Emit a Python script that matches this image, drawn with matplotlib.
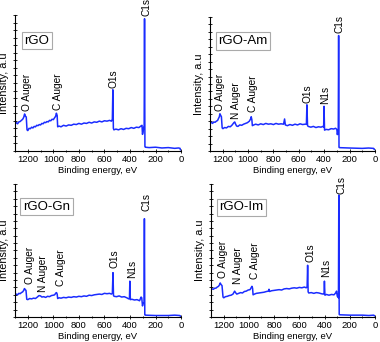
import matplotlib.pyplot as plt
from matplotlib.ticker import MultipleLocator

plt.rcParams['font.family'] = ['Liberation Sans', 'DejaVu Sans']

# rGO
e_rgo = [1300, 1290, 1280, 1270, 1260, 1250, 1240, 1232, 1225, 1218, 1212, 1206, 1200, 1190, 1180,
         1170, 1160, 1150, 1140, 1130, 1120, 1110, 1100, 1090, 1080, 1070, 1060, 1050, 1040, 1030,
         1020, 1010, 1000, 990, 982, 976, 970, 966, 955, 940, 920, 900, 880, 860, 840, 820, 800,
         780, 760, 740, 720, 700, 680, 660, 640, 620, 600, 580, 560, 545, 538, 534, 530, 526, 510,
         490, 470, 450, 430, 410, 390, 370, 350, 330, 315, 306, 302, 298, 292, 289, 286, 283, 280,
         250, 200, 150, 100, 50, 20, 8, 5, 0]
i_rgo = [3.6, 3.75, 3.6, 3.85, 3.9, 4.05, 4.2, 4.45, 4.9, 4.6, 4.5, 2.8, 2.7, 3.0, 2.95,
         3.15, 3.05, 3.25, 3.2, 3.4, 3.35, 3.5, 3.45, 3.65, 3.6, 3.8, 3.75, 3.9, 3.85, 4.05,
         4.0, 4.2, 4.15, 4.4, 4.6, 5.0, 4.7, 3.2, 3.3, 3.2, 3.4, 3.3, 3.45, 3.4, 3.55, 3.5, 3.65,
         3.55, 3.7, 3.65, 3.8, 3.7, 3.85, 3.8, 3.95, 3.85, 4.0, 3.95, 4.05, 3.95, 4.2, 8.1, 3.0, 2.8, 2.9,
         2.8, 2.95, 2.85, 3.0, 2.95, 3.1, 3.0, 3.15, 3.1, 3.3, 3.4, 2.2, 2.5, 3.2, 3.3, 17.5, 0.6, 0.5,
         0.45, 0.5, 0.4, 0.45, 0.35, 0.4, 0.35, 0.15, 0.15]

# rGO-Am
e_am = [1300, 1290, 1280, 1270, 1260, 1250, 1240, 1232, 1226, 1222, 1216, 1210, 1204, 1198, 1185,
        1170, 1155, 1140, 1125, 1112, 1105, 1098, 1090, 1080, 1065, 1050, 1035, 1020, 1005, 990,
        980, 975, 970, 966, 955, 940, 920, 900, 880, 860, 840, 820, 800, 780, 760, 740, 720, 712,
        706, 690, 670, 650, 630, 610, 590, 570, 550, 540, 536, 531, 525, 505, 485, 465, 445, 425,
        410, 404, 401, 397, 385, 365, 345, 325, 310, 300, 296, 292, 289, 286, 283, 280, 200, 100,
        50, 10, 5, 0]
i_am = [3.75, 3.85, 3.7, 3.9, 3.85, 4.0, 4.1, 4.4, 4.6, 5.0, 4.8, 4.6, 3.1, 3.0, 3.15,
        3.1, 3.3, 3.25, 3.5, 3.8, 3.9, 3.6, 3.35, 3.3, 3.5, 3.45, 3.6, 3.7, 3.8, 4.0,
        4.3, 4.6, 4.2, 3.4, 3.5, 3.6, 3.5, 3.65, 3.55, 3.7, 3.6, 3.65, 3.55, 3.7, 3.6, 3.65, 3.6, 4.3,
        3.5, 3.4, 3.55, 3.45, 3.6, 3.5, 3.65, 3.55, 3.6, 3.6, 6.2, 3.4, 3.3, 3.2, 3.3, 3.15, 3.25, 3.2,
        3.3, 3.2, 6.0, 2.8, 2.9, 2.85, 3.0, 2.95, 3.05, 2.9, 2.2, 2.6, 2.3, 15.5, 0.5, 0.45, 0.4, 0.35,
        0.4, 0.35, 0.2, 0.2]

# rGO-Gn
e_gn = [1300, 1290, 1280, 1270, 1260, 1250, 1240, 1232, 1226, 1220, 1214, 1208, 1200, 1185, 1170,
        1155, 1140, 1125, 1112, 1100, 1090, 1075, 1060, 1045, 1030, 1015, 1000, 990, 980, 975,
        970, 966, 955, 940, 920, 900, 880, 860, 840, 820, 800, 780, 760, 740, 720, 700, 680, 660,
        640, 620, 600, 580, 560, 545, 538, 533, 529, 524, 505, 485, 465, 445, 425, 410, 404, 401,
        397, 385, 365, 345, 325, 313, 308, 302, 296, 290, 287, 284, 280, 200, 100, 50, 10, 5, 0]
i_gn = [3.0, 3.1, 3.0, 3.2, 3.15, 3.3, 3.4, 3.6, 3.85, 3.7, 3.6, 2.4, 2.35, 2.5, 2.45,
        2.55, 2.5, 2.7, 2.9, 2.85, 2.7, 2.75, 2.65, 2.8, 2.75, 2.9, 2.95, 3.0, 3.25, 3.3,
        3.1, 2.5, 2.6, 2.55, 2.65, 2.6, 2.7, 2.65, 2.75, 2.7, 2.8, 2.75, 2.85, 2.8, 2.95, 2.9, 3.0, 3.05,
        3.1, 3.05, 3.2, 3.15, 3.2, 3.1, 3.2, 6.0, 2.9, 2.8, 2.75, 2.85, 2.7, 2.75, 2.6, 2.45, 2.5, 4.85,
        2.35, 2.4, 2.3, 2.35, 2.2, 2.7, 2.6, 1.5, 1.9, 1.85, 13.3, 0.3, 0.25, 0.2, 0.2, 0.25, 0.2, 0.1, 0.1]

# rGO-Im
e_im = [1300, 1290, 1280, 1270, 1260, 1250, 1240, 1232, 1226, 1220, 1212, 1204, 1198, 1185, 1170,
        1155, 1140, 1125, 1112, 1105, 1095, 1080, 1065, 1050, 1035, 1020, 1005, 990, 980, 975,
        970, 966, 955, 940, 920, 900, 880, 860, 845, 840, 835, 820, 800, 780, 760, 740, 720, 700,
        680, 660, 640, 620, 600, 580, 560, 545, 538, 534, 530, 525, 505, 485, 465, 445, 425, 410,
        404, 401, 397, 385, 365, 345, 325, 310, 305, 299, 293, 290, 287, 284, 280, 200, 100, 50,
        10, 5, 0]
i_im = [3.7, 3.8, 3.75, 3.9, 3.9, 4.05, 4.15, 4.35, 4.6, 4.4, 4.25, 2.7, 2.6, 2.75, 2.8,
        2.9, 2.95, 3.1, 3.5, 3.3, 3.1, 3.2, 3.3, 3.25, 3.45, 3.5, 3.65, 3.7, 4.0, 4.15,
        3.9, 3.0, 3.1, 3.2, 3.25, 3.3, 3.35, 3.45, 3.5, 3.75, 3.45, 3.55, 3.6, 3.65, 3.7, 3.65, 3.8, 3.85,
        3.8, 3.9, 3.95, 3.9, 4.0, 3.95, 4.05, 3.95, 4.1, 7.0, 3.4, 3.25, 3.3, 3.2, 3.3, 3.25, 3.15, 3.1,
        3.15, 4.85, 2.95, 3.05, 2.95, 3.05, 3.0, 3.3, 3.5, 2.8, 2.7, 2.6, 16.5, 0.35, 0.3, 0.25, 0.25, 0.2,
        0.25, 0.15, 0.15]

names = ["rGO", "rGO-Am", "rGO-Gn", "rGO-Im"]
energies = [e_rgo, e_am, e_gn, e_im]
intensities = [i_rgo, i_am, i_gn, i_im]

# peak labels: (text, x, y of label bottom)
labels = [
    [("O Auger", 1205, 5.3), ("C Auger", 966, 5.4), ("O1s", 528, 8.4), ("C1s", 272, 17.8)],
    [("O Auger", 1222, 5.4), ("N Auger", 1095, 4.3), ("C Auger", 964, 5.2), ("O1s", 530, 6.5),
     ("N1s", 396, 6.3), ("C1s", 276, 15.8)],
    [("O Auger", 1185, 4.4), ("N Auger", 1080, 3.4), ("C Auger", 942, 4.2), ("O1s", 520, 6.65),
     ("N1s", 385, 5.3), ("C1s", 270, 14.3)],
    [("O Auger", 1205, 5.3), ("N Auger", 1082, 4.4), ("C Auger", 950, 5.1), ("O1s", 515, 7.5),
     ("N1s", 386, 5.4), ("C1s", 262, 16.6)],
]

positions = [
    [0.0395, 0.5585, 0.437, 0.3977],
    [0.5526, 0.5585, 0.434, 0.392],
    [0.0395, 0.0731, 0.437, 0.389],
    [0.555, 0.0731, 0.432, 0.389],
]
box_pos = [(0.13, 0.81), (0.2, 0.82), (0.19, 0.83), (0.185, 0.825)]

fig = plt.figure(figsize=(3.8, 3.42), dpi=100)
for k in range(4):
    ax = fig.add_axes(positions[k])
    ax.plot(energies[k], intensities[k], color='#1a2cff', lw=1.1)
    ax.set_xlim(1300, 0)
    ax.set_ylim(0, 18)
    ax.spines['top'].set_visible(False)
    ax.spines['right'].set_visible(False)
    ax.xaxis.set_major_locator(MultipleLocator(200))
    ax.xaxis.set_minor_locator(MultipleLocator(100))
    ax.yaxis.set_major_locator(MultipleLocator(1))
    ax.set_yticklabels([])
    ax.tick_params(axis='both', which='major', direction='inout', length=3, width=0.6,
                   labelsize=6.8, pad=1.5)
    ax.tick_params(axis='both', which='minor', direction='inout', length=2, width=0.6)
    ax.set_xlabel("Binding energy, eV", fontsize=6.8, labelpad=1)
    ax.set_ylabel("Intensity, a.u", fontsize=7.8, labelpad=1)
    for txt, x, y in labels[k]:
        ax.text(x, y, txt, rotation=90, ha='center', va='bottom', fontsize=7.3, clip_on=False)
    ax.text(box_pos[k][0], box_pos[k][1], names[k], transform=ax.transAxes, ha='center',
            va='center', fontsize=9.5,
            bbox=dict(boxstyle='square,pad=0.2', facecolor='white', edgecolor='#aaaaaa', lw=0.8))

fig.savefig("out.png", dpi=100)
